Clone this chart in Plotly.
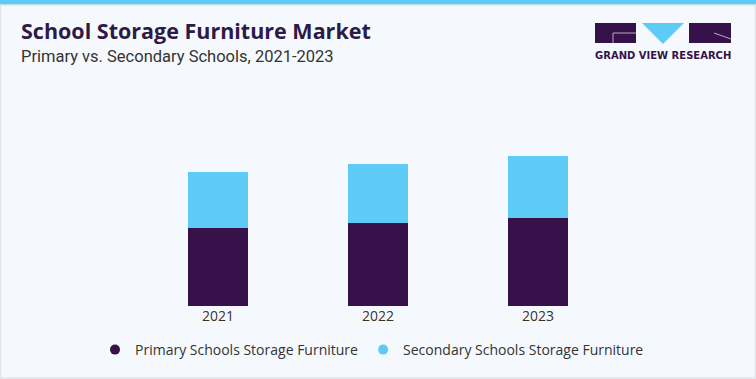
import plotly.graph_objects as go

years = ["2021", "2022", "2023"]
primary = [7.8, 8.3, 8.8]
secondary = [5.6, 5.9, 6.2]
series_names = ["Primary Schools Storage Furniture", "Secondary Schools Storage Furniture"]
title_text = "School Storage Furniture Market"
subtitle_text = "Primary vs. Secondary Schools, 2021-2023"

DARK = "#36114a"
BLUE = "#5ecbf6"
BG = "#f5f9fd"
W, H = 756, 379
L, R, T, B = 138, 138, 106, 73
PW, PH = W - L - R, H - T - B

def px(x):
    return (x - L) / PW

def py(y):
    return (H - B - y) / PH

fig = go.Figure()
fig.add_trace(go.Bar(x=years, y=primary, marker=dict(color=DARK, line=dict(width=0)),
                     showlegend=False, width=0.375))
fig.add_trace(go.Bar(x=years, y=secondary, marker=dict(color=BLUE, line=dict(width=0)),
                     showlegend=False, width=0.375))
for name, col in zip(series_names, [DARK, BLUE]):
    fig.add_trace(go.Scatter(x=[None], y=[None], mode="markers", name=name,
                             marker=dict(symbol="circle", size=10, color=col)))

shapes = []
shapes.append(dict(type="rect", xref="paper", yref="paper", x0=px(0), x1=px(W), y0=py(0), y1=py(5),
                   fillcolor=BLUE, line=dict(width=0), layer="above"))
shapes.append(dict(type="rect", xref="paper", yref="paper", x0=px(0.5), x1=px(W - 0.5), y0=py(5), y1=py(H - 1),
                   fillcolor="rgba(0,0,0,0)", line=dict(width=1.5, color="#e1e4e8")))
shapes.append(dict(type="rect", xref="paper", yref="paper", x0=px(595), x1=px(636), y0=py(23), y1=py(43),
                   fillcolor=DARK, line=dict(width=0)))
shapes.append(dict(type="path", xref="paper", yref="paper",
                   path=f"M {px(642)},{py(23)} L {px(684)},{py(23)} L {px(663)},{py(44)} Z",
                   fillcolor=BLUE, line=dict(width=0)))
shapes.append(dict(type="rect", xref="paper", yref="paper", x0=px(689), x1=px(731), y0=py(23), y1=py(43),
                   fillcolor=DARK, line=dict(width=0)))
shapes.append(dict(type="path", xref="paper", yref="paper",
                   path=f"M {px(636)},{py(33)} L {px(613)},{py(33)} L {px(613)},{py(43)}",
                   line=dict(width=1, color="#b9a9c9")))
shapes.append(dict(type="path", xref="paper", yref="paper",
                   path=f"M {px(714)},{py(33)} L {px(731)},{py(39)}",
                   line=dict(width=1, color="#b9a9c9")))

annotations = [
    dict(text=f"<b>{title_text}</b>", xref="paper", yref="paper", x=px(19), y=py(30),
         xanchor="left", yanchor="middle", showarrow=False,
         font=dict(family="Open Sans", size=21.5, color="#2e1a47", weight=800)),
    dict(text=subtitle_text, xref="paper", yref="paper", x=px(19), y=py(56),
         xanchor="left", yanchor="middle", showarrow=False,
         font=dict(family="Roboto", size=16.5, color="#333333")),
    dict(text="<b>GRAND VIEW RESEARCH</b>", xref="paper", yref="paper", x=px(663), y=py(55),
         xanchor="center", yanchor="middle", showarrow=False,
         font=dict(family="DejaVu Sans", size=10, color="#36114a")),
]

fig.update_layout(
    width=W, height=H,
    margin=dict(l=L, r=R, t=T, b=B, pad=0, autoexpand=False),
    paper_bgcolor=BG, plot_bgcolor=BG,
    barmode="stack",
    xaxis=dict(type="category", range=[-0.5, 2.5], showgrid=False, zeroline=False, showline=False,
               ticks="", tickfont=dict(family="Open Sans", size=14, color="#333333")),
    yaxis=dict(range=[0, 20], visible=False),
    legend=dict(orientation="h", x=px(95), xanchor="left",
                y=py(350), yanchor="middle", traceorder="normal",
                font=dict(family="Open Sans", size=14, color="#333333"), bgcolor="rgba(0,0,0,0)",
                itemwidth=30),
    shapes=shapes, annotations=annotations,
)
fig.write_html("out.html", config={"displayModeBar": False},
               post_script="document.body.style.margin='0';document.body.style.overflow='hidden';")
